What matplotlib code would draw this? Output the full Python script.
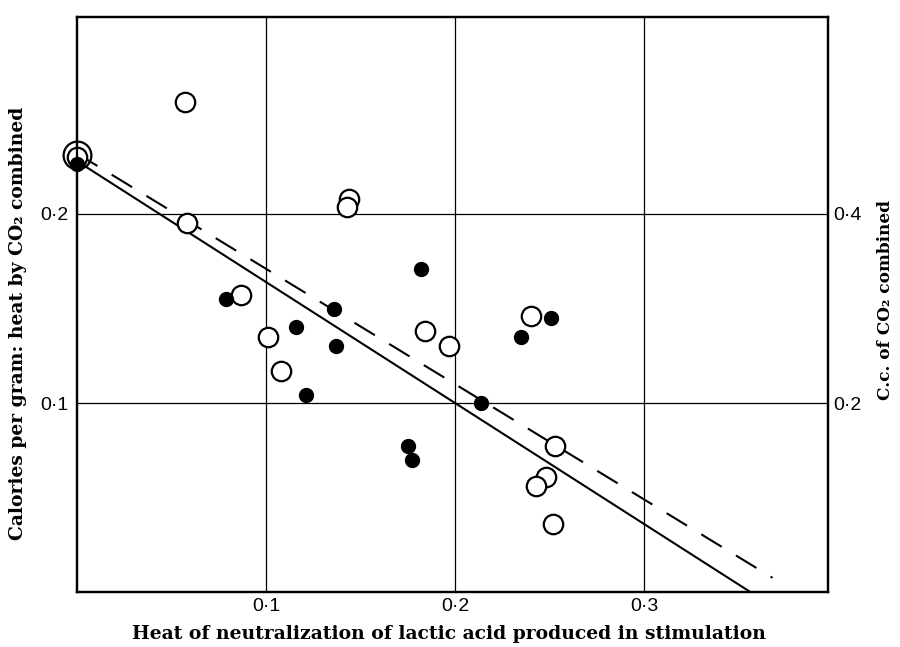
import numpy as np
import matplotlib.pyplot as plt

# open circles (x, y)
open_x = [0.057, 0.058, 0.144, 0.143, 0.087, 0.101, 0.108, 0.184, 0.197,
          0.240, 0.253, 0.248, 0.243, 0.252, 0.0, 0.0]
open_y = [0.259, 0.195, 0.208, 0.2035, 0.157, 0.135, 0.117, 0.138, 0.130,
          0.146, 0.077, 0.061, 0.056, 0.036, 0.230, 0.231]
open_big = [False] * 15 + [True]

# filled circles
fill_x = [0.0, 0.079, 0.116, 0.136, 0.137, 0.121, 0.182, 0.235, 0.251,
          0.214, 0.175, 0.177]
fill_y = [0.2265, 0.155, 0.140, 0.150, 0.130, 0.104, 0.171, 0.135, 0.145,
          0.100, 0.077, 0.070]

# fitted lines: (x0, x1, intercept, slope)
solid_line = (0.0, 0.356, 0.228, -0.64)
dashed_line = (0.0, 0.368, 0.232, -0.61)

x_ticks = [0.1, 0.2, 0.3]
x_ticklabels = ['0·1', '0·2', '0·3']
y_ticks = [0.1, 0.2]
y_ticklabels = ['0·1', '0·2']
y2_ticks = [0.2, 0.4]
y2_ticklabels = ['0·2', '0·4']

serif = ['DejaVu Serif']
sans = ['Liberation Sans', 'DejaVu Sans']

fig = plt.figure(figsize=(9, 6.47), dpi=100)
ax = fig.add_axes([77 / 900, 1 - 592 / 647, 751 / 900, 575 / 647])

ax.set_xlim(0, 751 / 1890)
ax.set_ylim(0, 575 / 1890)

for xv in x_ticks:
    ax.axvline(xv, color='black', lw=0.9, zorder=1)
for yv in y_ticks:
    ax.axhline(yv, color='black', lw=0.9, zorder=1)

xs = np.array([solid_line[0], solid_line[1]])
ax.plot(xs, solid_line[2] + solid_line[3] * xs, color='black', lw=1.5, zorder=2)
xd = np.array([dashed_line[0], dashed_line[1]])
ax.plot(xd, dashed_line[2] + dashed_line[3] * xd, color='black', lw=1.5,
        dashes=(11.5, 8), zorder=2)

for x, y, big in zip(open_x, open_y, open_big):
    ax.plot(x, y, 'o', ms=20 if big else 14, mfc='white' if not big else 'none',
            mec='black', mew=1.6, zorder=3, clip_on=False)
ax.plot(fill_x, fill_y, 'o', ms=10, color='black', ls='none', zorder=4,
        clip_on=False)

ax.set_xticks(x_ticks)
ax.set_xticklabels(x_ticklabels, family=sans, fontsize=14)
ax.set_yticks(y_ticks)
ax.set_yticklabels(y_ticklabels, family=sans, fontsize=14)
ax.tick_params(length=0, pad=4)
ax.tick_params(axis='y', pad=6)

for s in ax.spines.values():
    s.set_linewidth(1.6)

ax2 = ax.twinx()
ax2.set_ylim(0, 2 * 575 / 1890)
ax2.set_yticks(y2_ticks)
ax2.set_yticklabels(y2_ticklabels, family=sans, fontsize=14)
ax2.tick_params(length=0, pad=4)
for s in ax2.spines.values():
    s.set_linewidth(1.6)

ax.text(0.495, -0.073, 'Heat of neutralization of lactic acid produced in stimulation',
        transform=ax.transAxes, ha='center', va='center', family=serif,
        fontsize=13.5, fontweight='bold')
ax.text(-0.0786, 0.468, 'Calories per gram: heat by CO₂ combined',
        transform=ax.transAxes, ha='center', va='center', rotation=90,
        family=serif, fontsize=13.5, fontweight='bold')
ax.text(1.076, 0.508, 'C.c. of CO₂ combined',
        transform=ax.transAxes, ha='center', va='center', rotation=90,
        family=serif, fontsize=12.2, fontweight='bold')

fig.savefig('out.png', dpi=100)
